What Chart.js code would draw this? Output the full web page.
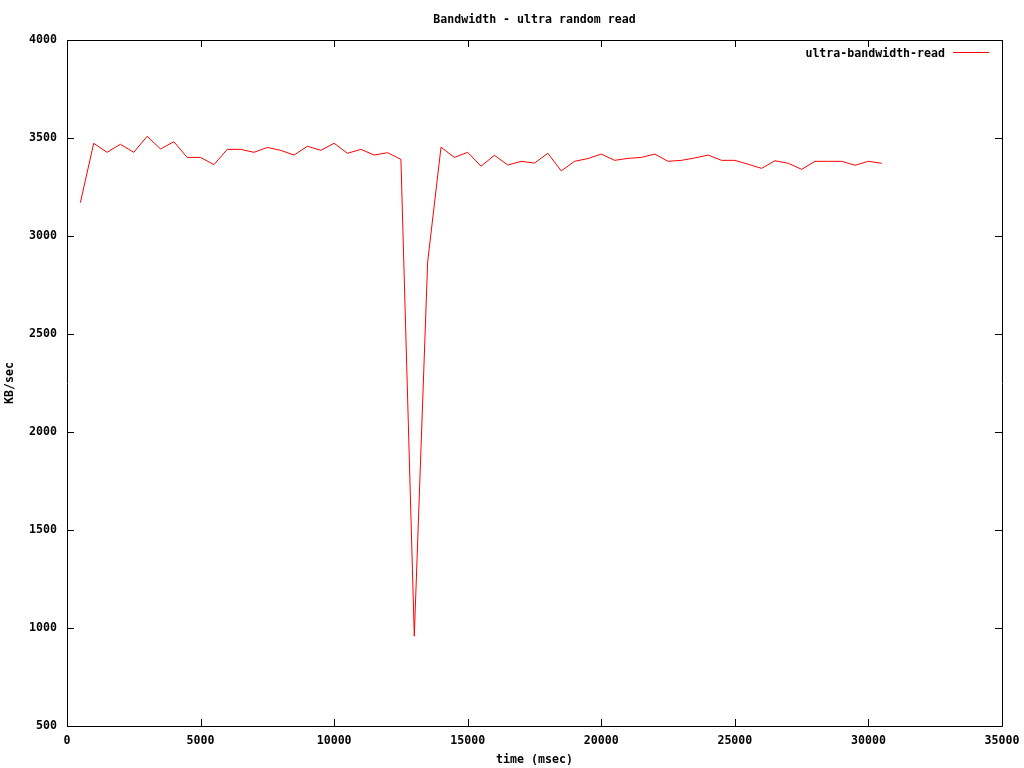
<!DOCTYPE html>
<html>
<head>
<meta charset="utf-8">
<script src="https://cdn.jsdelivr.net/npm/chart.js@4/dist/chart.umd.min.js"></script>
<style>
html,body{margin:0;padding:0;background:#fff;}
#wrap{width:1024px;height:768px;}
</style>
</head>
<body>
<div id="wrap"><canvas id="c" width="1024" height="768"></canvas></div>
<script>
const chartTitle = "Bandwidth - ultra random read";
const xTitle = "time (msec)";
const yTitle = "KB/sec";
const seriesName = "ultra-bandwidth-read";
const timesMs = [500,1000,1500,2000,2500,3000,3500,4000,4500,5000,5500,6000,6500,7000,7500,8000,8500,9000,9500,10000,10500,11000,11500,12000,12500,13000,13500,14000,14500,15000,15500,16000,16500,17000,17500,18000,18500,19000,19500,20000,20500,21000,21500,22000,22500,23000,23500,24000,24500,25000,25500,26000,26500,27000,27500,28000,28500,29000,29500,30000,30500];
const bandwidth = [3170,3473,3427,3468,3427,3509,3444,3481,3401,3401,3364,3442,3442,3427,3452,3437,3413,3458,3437,3473,3422,3442,3413,3425,3391,958,2867,3453,3401,3427,3356,3412,3362,3381,3372,3422,3332,3381,3395,3418,3386,3396,3401,3418,3381,3386,3398,3413,3386,3386,3366,3345,3384,3371,3340,3381,3381,3381,3361,3381,3371];
const xMin = 0, xMax = 35000, xStep = 5000;
const yMin = 500, yMax = 4000, yStep = 500;

const FONT = "'DejaVu Sans Mono', monospace";
const FS = 11.6;

const framePlugin = {
  id: 'frame',
  afterDraw(chart) {
    const ctx = chart.ctx;
    const a = chart.chartArea;
    const xs = chart.scales.x, ys = chart.scales.y;
    ctx.save();
    ctx.strokeStyle = '#000';
    ctx.lineWidth = 1;
    ctx.beginPath();
    ctx.rect(Math.round(a.left)+0.5, Math.round(a.top)+0.5, Math.round(a.right-a.left), Math.round(a.bottom-a.top));
    ctx.stroke();
    const tl = 7;
    ctx.beginPath();
    xs.ticks.forEach(t => {
      const px = Math.round(xs.getPixelForValue(t.value)) + 0.5;
      ctx.moveTo(px, a.bottom); ctx.lineTo(px, a.bottom - tl);
      ctx.moveTo(px, a.top); ctx.lineTo(px, a.top + tl);
    });
    ys.ticks.forEach(t => {
      const py = Math.round(ys.getPixelForValue(t.value)) + 0.5;
      ctx.moveTo(a.left, py); ctx.lineTo(a.left + tl, py);
      ctx.moveTo(a.right, py); ctx.lineTo(a.right - tl, py);
    });
    ctx.stroke();
    // title
    ctx.fillStyle = '#000';
    ctx.font = 'bold ' + FS + 'px ' + FONT;
    ctx.textAlign = 'center';
    ctx.textBaseline = 'middle';
    ctx.fillText(chartTitle, (a.left + a.right) / 2, 19.5);
    // legend
    ctx.textAlign = 'right';
    ctx.fillText(seriesName, a.right - 57, a.top + 13.5);
    ctx.strokeStyle = '#ff0000';
    ctx.beginPath();
    ctx.moveTo(a.right - 49, a.top + 12.5);
    ctx.lineTo(a.right - 13, a.top + 12.5);
    ctx.stroke();
    ctx.restore();
  }
};

new Chart(document.getElementById('c'), {
  type: 'line',
  data: {
    datasets: [{
      label: seriesName,
      data: timesMs.map((t, i) => ({x: t, y: bandwidth[i]})),
      borderColor: '#ff0000',
      borderWidth: 1,
      pointRadius: 0,
      tension: 0,
      fill: false
    }]
  },
  options: {
    responsive: false,
    animation: false,
    layout: {padding: {top: 40, right: 22, left: 0, bottom: 0}},
    plugins: {legend: {display: false}, title: {display: false}, tooltip: {enabled: false}},
    scales: {
      x: {
        type: 'linear', min: xMin, max: xMax,
        grid: {display: false, drawTicks: false},
        border: {display: false},
        ticks: {stepSize: xStep, color: '#000', font: {family: FONT, size: FS, weight: 'bold'}, padding: 8, maxRotation: 0,
                callback: v => String(v)},
        title: {display: true, text: xTitle, color: '#000', font: {family: FONT, size: FS, weight: 'bold'}, padding: {top: 0, bottom: 1}},
        afterFit(s) { s.height = 42; s.paddingRight = 0; s.paddingLeft = 0; }
      },
      y: {
        type: 'linear', min: yMin, max: yMax,
        grid: {display: false, drawTicks: false},
        border: {display: false},
        ticks: {stepSize: yStep, color: '#000', font: {family: FONT, size: FS, weight: 'bold'}, padding: 10,
                callback: v => String(v)},
        title: {display: true, text: yTitle, color: '#000', font: {family: FONT, size: FS, weight: 'bold'}, padding: {top: 3, bottom: 0}},
        afterFit(s) { s.width = 67; s.paddingTop = 0; s.paddingBottom = 0; }
      }
    }
  },
  plugins: [framePlugin]
});
</script>
</body>
</html>
